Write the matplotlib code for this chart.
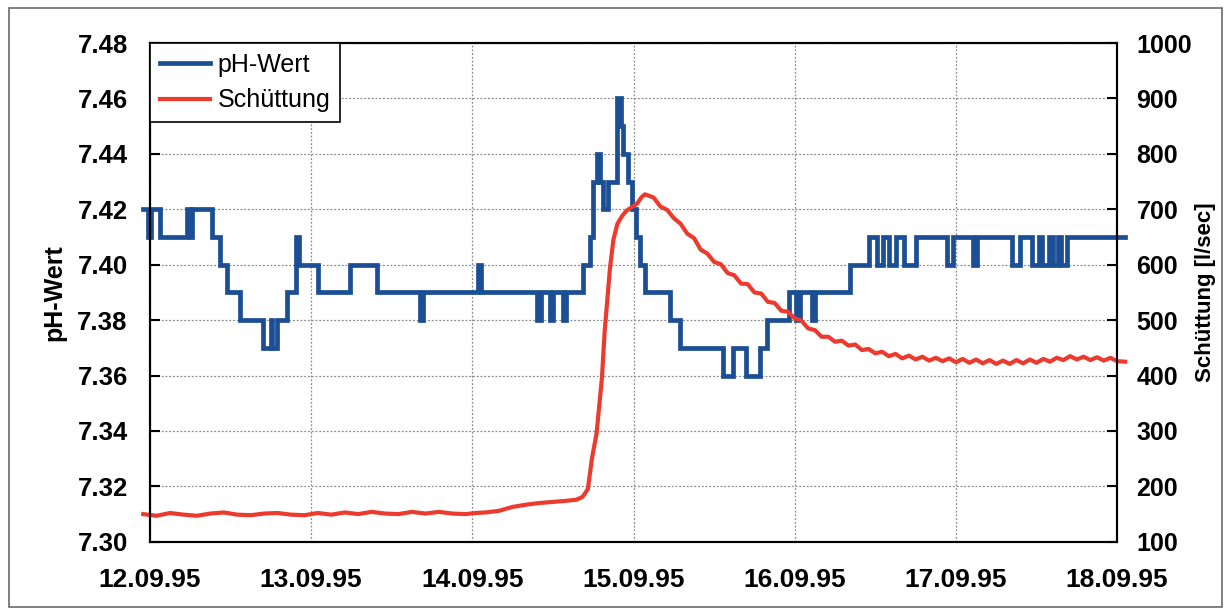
import matplotlib
matplotlib.use('Agg')
import matplotlib.pyplot as plt
from matplotlib.patches import Rectangle

plt.rcParams['font.family'] = ['Liberation Sans', 'DejaVu Sans']

BLUE = '#1b4e94'
RED = '#ec3b2e'

# Time in hours since 12.09.95 00:00
day_labels = ['12.09.95', '13.09.95', '14.09.95', '15.09.95',
              '16.09.95', '17.09.95', '18.09.95']

# pH value, stored as change points (held until the next one)
ph_hours = [-1.0, -0.3, 0.15, 1.5, 5.5, 6.0, 6.25, 9.2, 10.4, 11.5, 13.4,
            16.8, 18.0, 18.2, 18.9, 20.4, 21.7, 22.2, 25.0, 29.8, 33.8,
            40.2, 40.6, 48.8, 49.3, 57.7, 58.2, 59.5, 60.0, 61.5, 61.9,
            64.4, 65.5, 65.9, 66.5, 67.0, 67.4, 68.2, 69.5, 70.1, 70.5,
            71.1, 71.7, 72.3, 72.9, 73.7, 77.4, 78.9, 85.3, 86.8, 88.8,
            90.8, 91.8, 95.2, 96.2, 96.8, 98.5, 99.0, 100.1, 104.2, 107.1,
            108.3, 109.2, 110.0, 111.0, 112.3, 113.3, 114.0, 118.6, 119.5,
            122.5, 123.2, 128.4, 129.5, 131.3, 132.3, 132.8, 133.9, 134.4,
            135.2, 135.7, 136.6, 145.2]
ph_values = [7.42, 7.41, 7.42, 7.41, 7.42, 7.41, 7.42, 7.41, 7.40, 7.39, 7.38,
             7.37, 7.38, 7.37, 7.38, 7.39, 7.41, 7.40, 7.39, 7.40, 7.39,
             7.38, 7.39, 7.40, 7.39, 7.38, 7.39, 7.38, 7.39, 7.38, 7.39,
             7.40, 7.41, 7.43, 7.44, 7.43, 7.42, 7.43, 7.46, 7.45, 7.44,
             7.43, 7.42, 7.41, 7.40, 7.39, 7.38, 7.37, 7.36, 7.37, 7.36,
             7.37, 7.38, 7.39, 7.38, 7.39, 7.38, 7.39, 7.39, 7.40, 7.41,
             7.40, 7.41, 7.40, 7.41, 7.40, 7.40, 7.41, 7.40, 7.41,
             7.40, 7.41, 7.40, 7.41, 7.40, 7.41, 7.40, 7.41, 7.40,
             7.41, 7.40, 7.41, 7.41]

# Discharge (Schuettung) in l/sec
flow_hours = [-1.0, 1, 3, 5, 7, 9, 11, 13, 15, 17, 19, 21, 23, 25, 27, 29,
              31, 33, 35, 37, 39, 41, 43, 45, 47, 48.5, 50, 52, 54, 56, 58,
              60, 62, 63.5, 64.4, 65.2, 65.8, 66.5, 67.3, 67.7, 68.5, 69.0,
              69.6, 70.3, 71.0, 72.5, 73.2, 73.7, 74.4,
              75, 76, 77, 78, 79, 80, 81, 82, 83, 84, 85, 86, 87, 88, 89,
              90, 91, 92, 93, 94, 95, 96, 97, 98, 99, 100, 101, 102, 103,
              104, 105, 106, 107, 108, 109, 110, 111, 112, 113, 114, 115,
              116, 117, 118, 119, 120, 121, 122, 123, 124, 125, 126, 127,
              128, 129, 130, 131, 132, 133, 134, 135, 136, 137, 138, 139,
              140, 141, 142, 143, 144, 145.2]
flow_values = [150, 147, 152, 149, 147, 151, 153, 149, 148, 151, 152, 149,
               148, 152, 149, 153, 150, 154, 151, 150, 154, 151, 154, 151,
               150, 152, 153, 156, 163, 167, 170, 172, 174, 176, 181, 195,
               250, 296, 397, 480, 595, 645, 674, 688, 698, 710, 722, 727,
               724,
               721, 705, 699, 684, 674, 656, 648, 627, 620, 605, 601, 585,
               581, 566, 565, 550, 548, 533, 531, 517, 515, 503, 499, 485,
               482, 470, 470, 461, 463, 454, 456, 446, 448, 440, 443, 435,
               439, 431, 436, 429, 434, 427, 432, 426, 431, 424, 430, 423,
               429, 422, 428, 421, 427, 421, 428, 422, 429, 423, 430, 425,
               432, 428, 435, 429, 434, 428, 433, 427, 432, 426, 425]

fig = plt.figure(figsize=(12.29, 6.15), dpi=100)
ax = fig.add_axes([0.122, 0.119, 0.787, 0.811])
ax2 = ax.twinx()

# outer frame round the whole figure
fig.patches.append(Rectangle((0.007, 0.013), 0.987, 0.974,
                             transform=fig.transFigure, fill=False,
                             edgecolor='#6a6a6a', linewidth=1.2))

l1, = ax.plot(ph_hours, ph_values, color=BLUE, linewidth=3.4,
              drawstyle='steps-post', clip_on=False, label='pH-Wert',
              solid_joinstyle='miter')
l2, = ax2.plot(flow_hours, flow_values, color=RED, linewidth=3.0,
               clip_on=False, label='Schüttung')

ax.set_xlim(0, 144)
ax.set_ylim(7.30, 7.48)
ax2.set_ylim(100, 1000)
ax.set_xticks(range(0, 145, 24))
ax.set_xticklabels(day_labels)
ax.set_yticks([7.30 + 0.02 * i for i in range(10)])
ax.set_yticklabels(['%.2f' % (7.30 + 0.02 * i) for i in range(10)])
ax2.set_yticks(range(100, 1001, 100))

ax.grid(True, color='#8a8a8a', linestyle=(0, (1.5, 1.5)), linewidth=0.9)
ax.set_axisbelow(True)

ax.tick_params(axis='x', length=0, pad=19, labelsize=19)
ax.tick_params(axis='y', direction='in', length=7, width=1.5, pad=16,
               labelsize=18.5)
ax2.tick_params(axis='y', direction='in', length=7, width=1.5, pad=14,
                labelsize=18)
for a in (ax, ax2):
    for lab in a.get_xticklabels() + a.get_yticklabels():
        lab.set_fontweight('bold')
    for s in a.spines.values():
        s.set_linewidth(1.5)

ax.set_ylabel('pH-Wert', fontsize=18, fontweight='bold', labelpad=8)
ax2.set_ylabel('Schüttung [l/sec]', fontsize=16, fontweight='bold',
               labelpad=2)

leg = ax2.legend(handles=[l1, l2], loc='upper left', bbox_to_anchor=(0, 1),
                 borderaxespad=0, fontsize=18, frameon=True, fancybox=False,
                 handlelength=2.0, handletextpad=0.3, borderpad=0.4,
                 labelspacing=0.45)
leg.get_frame().set_edgecolor('black')
leg.get_frame().set_linewidth(1.2)
leg.get_frame().set_alpha(1)

fig.savefig('out.png', dpi=100)
